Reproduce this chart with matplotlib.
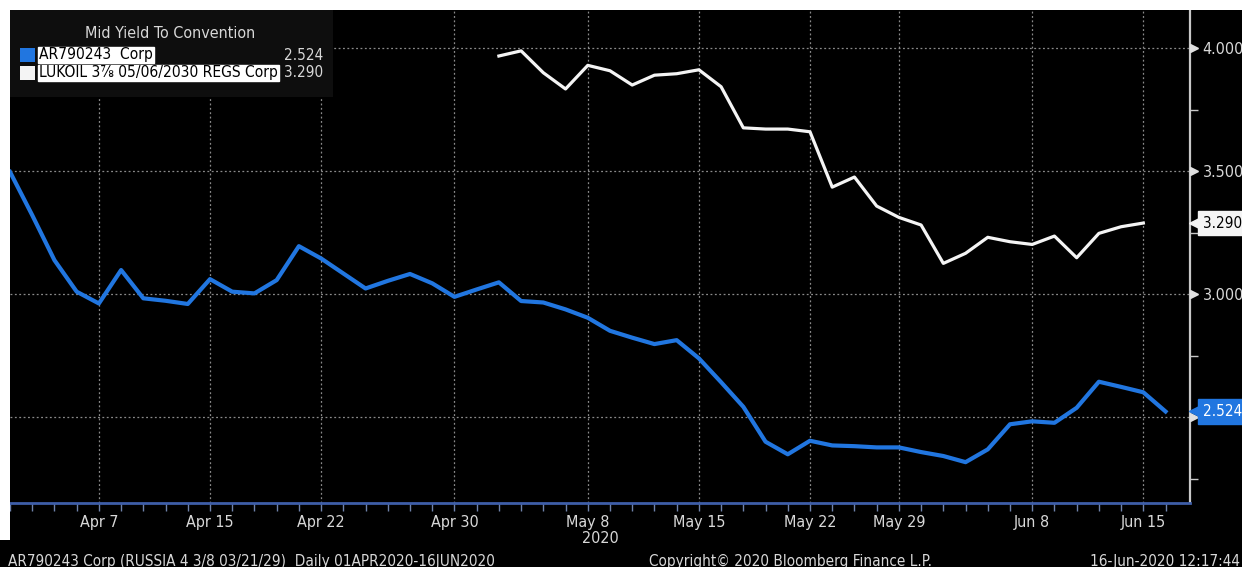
import numpy as np
import pandas as pd
import matplotlib
matplotlib.use('Agg')
import matplotlib.pyplot as plt
import matplotlib.transforms as mtransforms
from matplotlib import font_manager as fm
from matplotlib.patches import Rectangle
from matplotlib.ticker import FixedLocator

# narrow terminal-like face when available
_names = {f.name for f in fm.fontManager.ttflist}
if 'Liberation Sans Narrow' in _names:
    plt.rcParams['font.family'] = ['Liberation Sans Narrow', 'DejaVu Sans']
else:
    plt.rcParams['font.family'] = ['DejaVu Sans']
    plt.rcParams['font.stretch'] = 'condensed'

W, H = 1242, 567

# trading days (bond market): Good Friday and Memorial Day skipped
trade_days = pd.bdate_range('2020-04-01', '2020-06-16', freq='C',
                            holidays=['2020-04-10', '2020-05-25'])

ar_yield = [3.498, 3.322, 3.139, 3.011, 2.963, 3.099, 2.984, 2.974, 2.961, 3.062,
            3.011, 3.004, 3.058, 3.196, 3.146, 3.085, 3.024, 3.055, 3.083, 3.045,
            2.990, 3.020, 3.049, 2.973, 2.967, 2.939, 2.905, 2.852, 2.824, 2.798,
            2.814, 2.740, 2.643, 2.543, 2.401, 2.350, 2.405, 2.386, 2.383, 2.378,
            2.378, 2.359, 2.343, 2.318, 2.370, 2.472, 2.484, 2.478, 2.539, 2.645,
            2.624, 2.602, 2.524]

lukoil_start = '2020-05-04'
lukoil_yield = [3.969, 3.990, 3.901, 3.835, 3.931, 3.909, 3.851, 3.891, 3.897, 3.913,
                3.844, 3.677, 3.672, 3.672, 3.661, 3.436, 3.477, 3.359, 3.313, 3.282,
                3.126, 3.167, 3.232, 3.214, 3.203, 3.237, 3.149, 3.248, 3.275, 3.290]

label_days = ['2020-04-07', '2020-04-15', '2020-04-22', '2020-04-30', '2020-05-08',
              '2020-05-15', '2020-05-22', '2020-05-29', '2020-06-08', '2020-06-15']
y_major = [2.5, 3.0, 3.5, 4.0]
y_minor = [2.25, 2.75, 3.25, 3.75]

ar_name = "AR790243  Corp"
lukoil_name = "LUKOIL 3\u215e 05/06/2030 REGS Corp"

BLUE = '#2176e0'
WHITE = '#f4f4f4'
TXT = '#d8d8d8'
GRID = '#8a8a8a'
FS = 11.5


def fx(x):
    return x / W


def fy(y):
    return 1 - y / H


fig = plt.figure(figsize=(W / 100, H / 100), dpi=100, facecolor='black')
ax = fig.add_axes([fx(10), fy(503), fx(1190) - fx(10), fy(10) - fy(503)])
ax.set_facecolor('black')

# white screenshot borders
fig.patches.append(Rectangle((0, fy(10)), 1, 10 / H, transform=fig.transFigure,
                             facecolor='white', edgecolor='none', zorder=0))
fig.patches.append(Rectangle((0, fy(540)), fx(10), 530 / H, transform=fig.transFigure,
                             facecolor='white', edgecolor='none', zorder=0))

x_ar = np.arange(len(trade_days))
i0 = trade_days.get_loc(pd.Timestamp(lukoil_start))
x_lk = i0 + np.arange(len(lukoil_yield))

ax.plot(x_ar, ar_yield, color=BLUE, lw=3, solid_joinstyle='round', zorder=4)
ax.plot(x_lk, lukoil_yield, color=WHITE, lw=2.3, solid_joinstyle='round', zorder=4)

ax.set_xlim(0, 53.1)
ax.set_ylim(2.152, 4.156)

# x axis
label_pos = [trade_days.get_loc(pd.Timestamp(d)) for d in label_days]
ax.set_xticks(label_pos)
ax.set_xticklabels([f"{pd.Timestamp(d):%b} {pd.Timestamp(d).day}" for d in label_days])
ax.xaxis.set_minor_locator(FixedLocator(x_ar))
ax.tick_params(axis='x', which='both', direction='out', length=6, width=1,
               color='#6f82aa', labelcolor=TXT, labelsize=FS, pad=3)

# y axis on the right; the 2.500 label sits under the last-value tag
ax.yaxis.tick_right()
ax.set_yticks(y_major)
ax.set_yticklabels(["" if v == 2.5 else f"{v:.3f}" for v in y_major])
ax.yaxis.set_minor_locator(FixedLocator(y_minor))
ax.tick_params(axis='y', which='major', length=0, labelcolor=TXT, labelsize=FS, pad=9)
ax.tick_params(axis='y', which='minor', direction='out', length=6, width=1, color='#c8c8c8')

ax.grid(True, which='major', color=GRID, lw=0.9, linestyle=(0, (1.5, 2)))

for s in ['left', 'top']:
    ax.spines[s].set_visible(False)
ax.spines['right'].set_color('#c8c8c8')
ax.spines['right'].set_linewidth(1.6)
ax.spines['bottom'].set_color('#3e5ea8')
ax.spines['bottom'].set_linewidth(2)

ytrans = ax.get_yaxis_transform()


def off(px):
    return ytrans + mtransforms.ScaledTranslation(px / 100, 0, fig.dpi_scale_trans)


# triangle tick marks
ax.plot(np.ones(len(y_major)), y_major, linestyle='none', marker='>', ms=6,
        color='#e0e0e0', transform=off(4), clip_on=False, zorder=5)

# last value tags
for val, fc, tc in [(lukoil_yield[-1], WHITE, 'black'), (ar_yield[-1], BLUE, 'white')]:
    ax.plot([1.0], [val], marker='<', ms=15, color=fc, transform=off(9),
            clip_on=False, zorder=9)
    ax.text(1.0, val, f"{val:.3f}", transform=off(13), ha='left', va='center',
            color=tc, fontsize=11, clip_on=False, zorder=10,
            bbox=dict(boxstyle='square,pad=0.3', fc=fc, ec=fc))

# legend block
fig.patches.append(Rectangle((fx(10), fy(97)), fx(333) - fx(10), 87 / H,
                             transform=fig.transFigure, facecolor='#0e0e0e',
                             edgecolor='none', zorder=5))
fig.text(fx(170), fy(34), "Mid Yield To Convention", ha='center', va='center',
         color=TXT, fontsize=FS, zorder=6)
rows = [(ar_name, ar_yield[-1], BLUE, 55), (lukoil_name, lukoil_yield[-1], WHITE, 73)]
for name, val, col, yy in rows:
    fig.patches.append(Rectangle((fx(20), fy(yy + 7)), fx(15), 14 / H,
                                 transform=fig.transFigure, facecolor=col,
                                 edgecolor='none', zorder=6))
    fig.text(fx(39), fy(yy), name, ha='left', va='center', color='black',
             fontsize=11.2, zorder=7,
             bbox=dict(boxstyle='square,pad=0.06', fc='white', ec='white'))
    fig.text(fx(323), fy(yy), f"{val:.3f}", ha='right', va='center', color=TXT,
             fontsize=11, zorder=7)

# footer
fig.text(fx(600), fy(531), "2020", ha='center', va='top', color=TXT, fontsize=FS)
fig.text(fx(8), fy(554), "AR790243 Corp (RUSSIA 4 3/8 03/21/29)  Daily 01APR2020-16JUN2020",
         ha='left', va='top', color=TXT, fontsize=11)
fig.text(fx(790), fy(554), "Copyright\u00a9 2020 Bloomberg Finance L.P.",
         ha='center', va='top', color=TXT, fontsize=11)
fig.text(fx(1240), fy(554), "16-Jun-2020 12:17:44", ha='right', va='top',
         color=TXT, fontsize=11)

fig.savefig('out.png', dpi=100, facecolor='black')
